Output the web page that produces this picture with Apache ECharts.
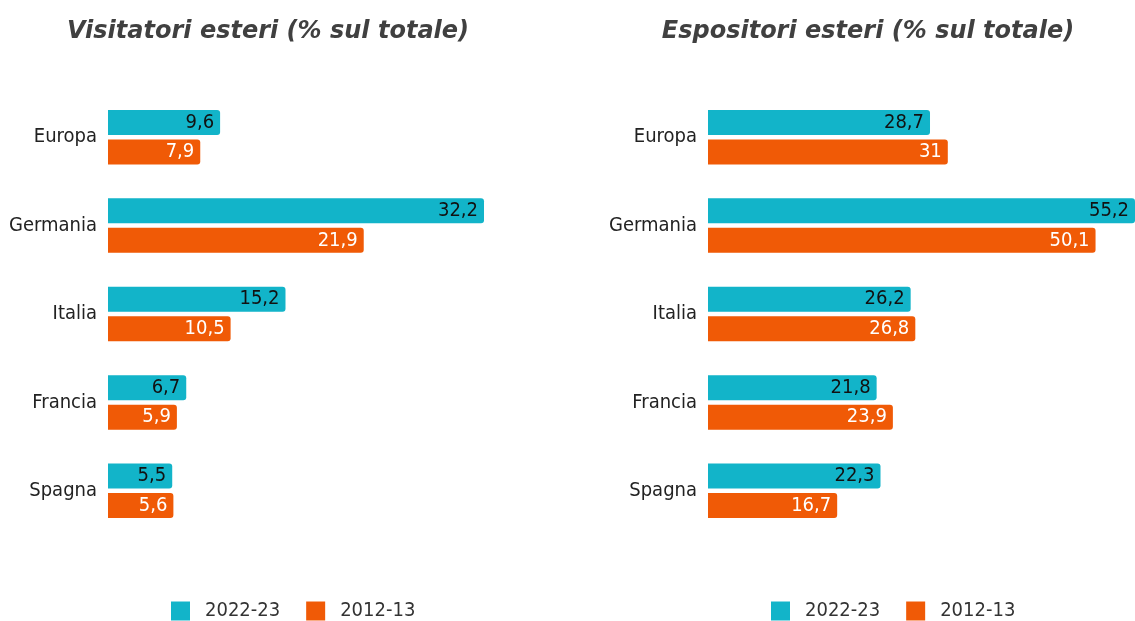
<!DOCTYPE html>
<html>
<head>
<meta charset="utf-8">
<script src="https://cdn.jsdelivr.net/npm/echarts@6/dist/echarts.min.js"></script>
<style>
html,body{margin:0;padding:0;background:#fff;}
#chart{width:1135px;height:621px;}
</style>
</head>
<body>
<div id="chart"></div>
<script>
const categories = ['Europa', 'Germania', 'Italia', 'Francia', 'Spagna'];
const seriesNames = ['2022-23', '2012-13'];
const visitatori2223 = [9.6, 32.2, 15.2, 6.7, 5.5];
const visitatori1213 = [7.9, 21.9, 10.5, 5.9, 5.6];
const espositori2223 = [28.7, 55.2, 26.2, 21.8, 22.3];
const espositori1213 = [31, 50.1, 26.8, 23.9, 16.7];
const titles = ['Visitatori esteri (% sul totale)', 'Espositori esteri (% sul totale)'];

const FONT = 'DejaVu Sans';
const FONT_C = '"DejaVu Sans Condensed", "DejaVu Sans"';
const TEAL = '#12B4C9';
const ORANGE = '#F05A06';
const fmt = p => String(p.value).replace('.', ',');

function bar(name, data, idx, color, labelColor) {
  return {
    name: name, type: 'bar', data: data,
    xAxisIndex: idx, yAxisIndex: idx,
    barWidth: 25, barGap: '18%',
    itemStyle: { color: color, borderRadius: [0, 3, 3, 0] },
    label: { show: true, position: 'insideRight', distance: 6, formatter: fmt,
             color: labelColor, fontFamily: FONT_C, fontSize: 20 }
  };
}

const legendStyle = { fontFamily: FONT_C, fontSize: 20, color: '#333', padding: [0, 0, 0, 10] };

const chart = echarts.init(document.getElementById('chart'));
chart.setOption({
  animation: false,
  backgroundColor: '#fff',
  title: [
    { text: titles[0], left: 263, top: 15, textAlign: 'center',
      textStyle: { fontFamily: FONT, fontSize: 24, fontWeight: 'bold', fontStyle: 'italic', color: '#404040' } },
    { text: titles[1], left: 863, top: 15, textAlign: 'center',
      textStyle: { fontFamily: FONT, fontSize: 24, fontWeight: 'bold', fontStyle: 'italic', color: '#404040' } }
  ],
  legend: [
    { data: seriesNames, left: 171, top: 601, padding: 0, itemWidth: 19, itemHeight: 19, itemGap: 26, icon: 'rect',
      textStyle: legendStyle },
    { data: seriesNames, left: 771, top: 601, padding: 0, itemWidth: 19, itemHeight: 19, itemGap: 26, icon: 'rect',
      textStyle: legendStyle }
  ],
  grid: [
    { left: 108, width: 376, top: 93, height: 442 },
    { left: 708, width: 427, top: 93, height: 442 }
  ],
  xAxis: [
    { gridIndex: 0, type: 'value', min: 0, max: 'dataMax', show: false },
    { gridIndex: 1, type: 'value', min: 0, max: 'dataMax', show: false }
  ],
  yAxis: [0, 1].map(i => ({
    gridIndex: i, type: 'category', data: categories, inverse: true,
    axisLine: { show: false }, axisTick: { show: false },
    axisLabel: { margin: 11, fontFamily: FONT_C, fontSize: 20, color: '#222' }
  })),
  series: [
    bar(seriesNames[0], visitatori2223, 0, TEAL, '#111'),
    bar(seriesNames[1], visitatori1213, 0, ORANGE, '#fff'),
    bar(seriesNames[0], espositori2223, 1, TEAL, '#111'),
    bar(seriesNames[1], espositori1213, 1, ORANGE, '#fff')
  ]
});
</script>
</body>
</html>
